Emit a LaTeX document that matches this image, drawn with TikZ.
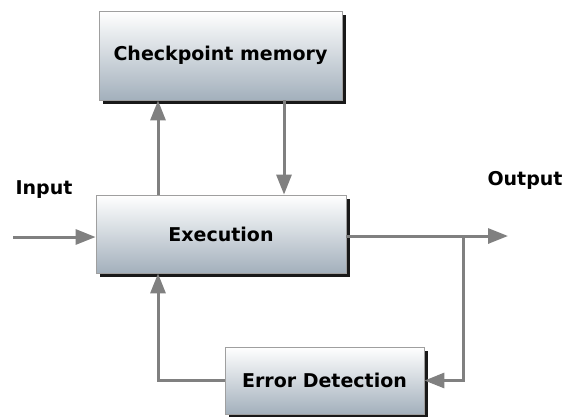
\documentclass[tikz,border=0pt]{standalone}
\usepackage{fontspec}
\setmainfont{DejaVu Sans}
\usepackage{tikz}
\usetikzlibrary{arrows.meta,shadows}

\definecolor{boxbot}{RGB}{163,176,188}
\definecolor{wiregray}{RGB}{128,128,128}

\tikzset{
    block/.style={draw=gray!75, line width=0.8pt, top color=white, bottom color=boxbot,
        drop shadow={shadow xshift=4pt, shadow yshift=-4pt, fill=black, opacity=0.9},
        font=\fontsize{19}{21}\selectfont\bfseries, align=center},
    wire/.style={draw=wiregray, line width=3pt},
    tip/.style={-{Triangle[length=20pt,width=15pt]}},
    label/.style={font=\fontsize{19}{21}\selectfont\bfseries}
}

\begin{document}
\begin{tikzpicture}[x=1pt,y=-1pt]
    % checkpoint / rollback loop
    \useasboundingbox (0,0) rectangle (569,416);
    \node[block, minimum width=243pt, minimum height=89pt] (chk) at (220.5,55.5) {Checkpoint memory};
    \node[block, minimum width=250pt, minimum height=78pt] (exe) at (221,234) {Execution};
    \node[block, minimum width=199pt, minimum height=67pt] (err) at (324.5,380.5) {Error Detection};
    \node[label] (inlbl) at (44,190) {Input};
    \node[label] (outlbl) at (525,180) {Output};
    \coordinate (up) at (158,0);
    \coordinate (down) at (284,0);
    \coordinate (in) at (13,237);
    \coordinate (out) at (508,236);
    \coordinate (tap) at (463,236);
    \draw[wire,tip] (up |- exe.north) -- (up |- chk.south);
    \draw[wire,tip] (down |- chk.south) -- (down |- exe.north);
    \draw[wire,tip] (in) -- (in -| exe.west);
    \draw[wire,tip] (out -| exe.east) -- (out);
    \draw[wire,tip] (tap) |- (err.east);
    \draw[wire,tip] (err.west) -| (up |- exe.south);
\end{tikzpicture}
\end{document}
